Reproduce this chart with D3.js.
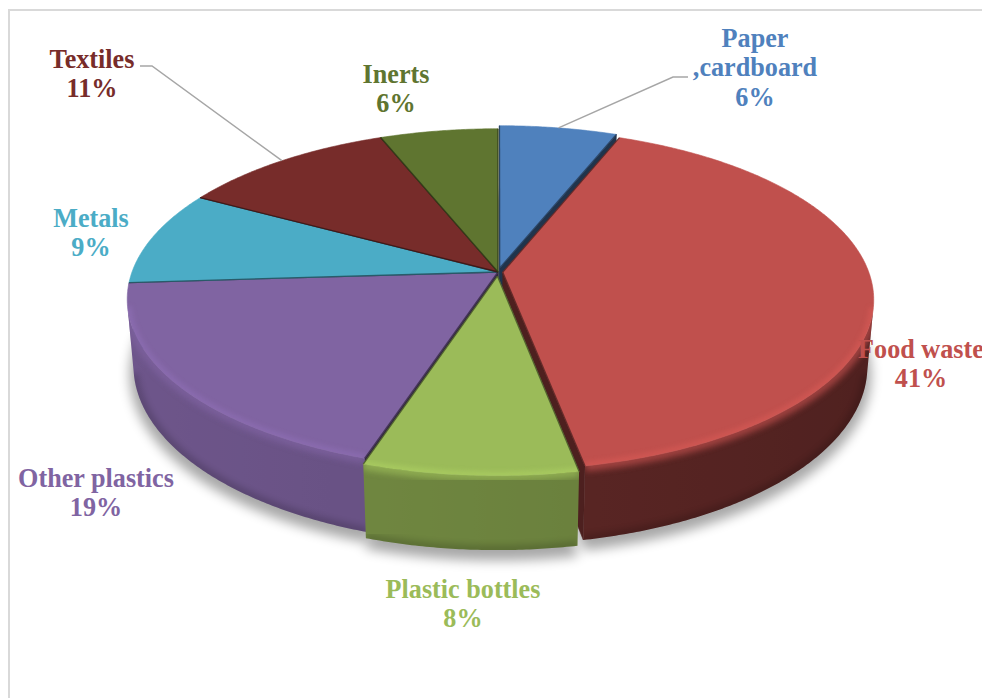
<!DOCTYPE html>
<html>
<head>
<meta charset="utf-8">
<script src="https://cdn.jsdelivr.net/npm/d3@7"></script>
<style>
  html, body { margin: 0; padding: 0; background: #fff; overflow: hidden; }
  text { font-family: "Liberation Serif", "Times New Roman", "DejaVu Serif", serif; font-weight: bold; }
</style>
</head>
<body>
<svg id="chart" width="982" height="698"></svg>
<script>
// ---- data ----
const categories = ["Paper ,cardboard", "Food waste", "Plastic bottles", "Other plastics", "Metals", "Textiles", "Inerts"];
const values = [6, 41, 8, 19, 9, 11, 6];
const labelLines = [["Paper", ",cardboard"], ["Food waste"], ["Plastic bottles"], ["Other plastics"], ["Metals"], ["Textiles"], ["Inerts"]];

// ---- style / layout ----
const colors = ["#4f81bd", "#c0504d", "#9bbb59", "#8064a2", "#4bacc6", "#772c2a", "#5f7530"];
const sideTone = [0.5, 0.47, 0.7, 0.8, 0.78, 0.5, 0.6];
const explode = [0.025, 0.013, 0.025, 0, 0, 0, 0];
// label block: centre x, first baseline
const labelPos = [[755, 47], [921, 358], [463, 598], [96, 487], [91, 227], [92, 68], [396, 83]];
// leader lines: label-side end and elbow
const leaders = { 0: [[688, 77], [673, 77]], 5: [[140, 66], [152, 66]] };

const W = 982, H = 698;
const cx = 498, cy = 272;
const theta = 27 * Math.PI / 180;
const cosT = Math.cos(theta), sinT = Math.sin(theta);
const persp = 0.16;
const D = cosT / persp;
const F = 366 * D;
const thick = 0.205;

// perspective projection of a point on the disk (u right, v toward viewer, w up)
function project(u, v, w) {
  const z = D - (v * cosT + w * sinT);
  const xc = u, yc = v * sinT - w * cosT;
  return [cx + F * xc / z, cy + F * yc / z, z];
}

const svg = d3.select("#chart");
const defs = svg.append("defs");
function blurFilter(id, sd) {
  defs.append("filter").attr("id", id)
    .attr("x", "-30%").attr("y", "-30%").attr("width", "160%").attr("height", "160%")
    .append("feGaussianBlur").attr("stdDeviation", sd);
}
blurFilter("shadowBlur", 6);
blurFilter("softBlur", 3);
blurFilter("edgeBlur", 2);

// frame
svg.append("path")
  .attr("d", `M9,${H + 5} L9,10 L${W + 5},10`)
  .attr("fill", "none").attr("stroke", "#d9d9d9").attr("stroke-width", 2);

const pie = d3.pie().sort(null).value(d => d.value).startAngle(0).endAngle(2 * Math.PI);
const arcs = pie(categories.map((c, i) => ({ name: c, value: values[i] })));

const slices = arcs.map((d, i) => {
  const m = (d.startAngle + d.endAngle) / 2;
  const e = explode[i];
  return { a0: d.startAngle, a1: d.endAngle, m, i, value: d.data.value, name: d.data.name,
           ou: e * Math.sin(m), ov: -e * Math.cos(m), color: colors[i] };
});

const rim = (sl, a, r, w) => project(sl.ou + r * Math.sin(a), sl.ov - r * Math.cos(a), w);
const hub = (sl, w) => project(sl.ou, sl.ov, w);
const camU = 0, camV = D * cosT;

function wallFacing(sl, a) {
  const pu = sl.ou + Math.sin(a), pv = sl.ov - Math.cos(a);
  return Math.sin(a) * (camU - pu) + (-Math.cos(a)) * (camV - pv) > 0;
}
// side walls are lit from the left
const lightFactor = (sl, a) => sideTone[sl.i] - 0.06 * Math.sin(a);
function shade(c, f) {
  const r = d3.rgb(c);
  return d3.rgb(r.r * f, r.g * f, r.b * f).formatHex();
}
const line = d3.line();
const poly = pts => line(pts.map(p => [p[0], p[1]])) + "Z";

// shadow under the pie
const shadowG = svg.append("g").attr("filter", "url(#shadowBlur)").attr("opacity", 0.34)
  .attr("transform", "translate(0,8)");
slices.forEach(sl => {
  const angs = d3.range(0, 61).map(j => sl.a0 + (sl.a1 - sl.a0) * j / 60);
  shadowG.append("path")
    .attr("d", poly([hub(sl, -thick), ...angs.map(a => rim(sl, a, 1.01, -thick))]))
    .attr("fill", "#000");
});

// collect side faces
const faces = [];
slices.forEach(sl => {
  const n = Math.max(4, Math.ceil((sl.a1 - sl.a0) / (Math.PI / 360)));
  const angs = d3.range(n + 1).map(j => sl.a0 + (sl.a1 - sl.a0) * j / n);
  sl.angs = angs;
  const runs = [];
  let run = [];
  for (let j = 0; j < n; j++) {
    const am = (angs[j] + angs[j + 1]) / 2;
    if (wallFacing(sl, am)) { if (!run.length) run.push(angs[j]); run.push(angs[j + 1]); }
    else if (run.length) { runs.push(run); run = []; }
  }
  if (run.length) runs.push(run);
  sl.runs = runs;
  runs.forEach(r => {
    const top = r.map(a => rim(sl, a, 1, 0));
    const bot = r.map(a => rim(sl, a, 1, -thick));
    faces.push({ type: "wall", sl, angles: r, top, bot, z: d3.mean([...top, ...bot], p => p[2]) });
  });
  // radial cut faces
  const dv = camV - sl.ov, du = camU - sl.ou;
  const startVis = (-Math.cos(sl.a0)) * du + (-Math.sin(sl.a0)) * dv > 0;
  const endVis = Math.cos(sl.a1) * du + Math.sin(sl.a1) * dv > 0;
  [[sl.a0, startVis], [sl.a1, endVis]].forEach(([a, vis]) => {
    if (!vis) return;
    const pts = [hub(sl, 0), rim(sl, a, 1, 0), rim(sl, a, 1, -thick), hub(sl, -thick)];
    faces.push({ type: "cut", sl, pts, z: d3.mean(pts, p => p[2]) });
  });
});
faces.sort((a, b) => b.z - a.z);

const sideG = svg.append("g");
faces.forEach((f, k) => {
  const sl = f.sl;
  if (f.type === "cut") {
    sideG.append("path").attr("d", poly(f.pts))
      .attr("fill", shade(sl.color, 0.4))
      .attr("stroke", shade(sl.color, 0.4)).attr("stroke-width", 0.6);
    return;
  }
  const outline = poly([...f.top, ...f.bot.slice().reverse()]);
  const gid = "wallGrad" + k, cid = "wallClip" + k;
  const x1 = f.top[0][0], x2 = f.top[f.top.length - 1][0];
  let fill = shade(sl.color, lightFactor(sl, (f.angles[0] + f.angles[f.angles.length - 1]) / 2));
  if (Math.abs(x2 - x1) > 1) {
    const g = defs.append("linearGradient").attr("id", gid)
      .attr("gradientUnits", "userSpaceOnUse")
      .attr("x1", x1).attr("x2", x2).attr("y1", 0).attr("y2", 0);
    const step = Math.max(1, Math.floor(f.angles.length / 12));
    f.angles.forEach((a, j) => {
      if (j % step && j !== f.angles.length - 1) return;
      const off = Math.max(0, Math.min(1, (f.top[j][0] - x1) / (x2 - x1)));
      g.append("stop").attr("offset", off).attr("stop-color", shade(sl.color, lightFactor(sl, a)));
    });
    fill = `url(#${gid})`;
  }
  defs.append("clipPath").attr("id", cid).append("path").attr("d", outline);
  const wg = sideG.append("g");
  wg.append("path").attr("d", outline).attr("fill", fill);
  const inner = wg.append("g").attr("clip-path", `url(#${cid})`);
  // rounded top edge highlight
  inner.append("path").attr("d", line(f.top.map(p => [p[0], p[1]])))
    .attr("fill", "none").attr("stroke", sl.color).attr("stroke-width", 11)
    .attr("opacity", 0.7).attr("filter", "url(#softBlur)");
  // darker lower edge
  inner.append("path").attr("d", line(f.bot.map(p => [p[0], p[1]])))
    .attr("fill", "none").attr("stroke", "#000").attr("stroke-width", 10)
    .attr("opacity", 0.16).attr("filter", "url(#softBlur)");
});

// top faces
const topG = svg.append("g");
slices.forEach(sl => {
  const pts = [hub(sl, 0), ...sl.angs.map(a => rim(sl, a, 1, 0))];
  const d = poly(pts);
  const cid = "topClip" + sl.i;
  defs.append("clipPath").attr("id", cid).append("path").attr("d", d);
  topG.append("path").attr("d", d).attr("fill", sl.color)
    .attr("stroke", sl.color).attr("stroke-width", 0.6);
  const hl = topG.append("g").attr("clip-path", `url(#${cid})`);
  sl.runs.forEach(r => {
    hl.append("path").attr("d", line(r.map(a => rim(sl, a, 1, 0)).map(p => [p[0], p[1]])))
      .attr("fill", "none").attr("stroke", d3.rgb(sl.color).brighter(0.35).formatHex())
      .attr("stroke-width", 9).attr("opacity", 0.5).attr("filter", "url(#edgeBlur)");
  });
  // slice borders along the radii
  const h = hub(sl, 0);
  [sl.a0, sl.a1].forEach(a => {
    const p = rim(sl, a, 1, 0);
    topG.append("line").attr("x1", h[0]).attr("y1", h[1]).attr("x2", p[0]).attr("y2", p[1])
      .attr("stroke", shade(sl.color, 0.45)).attr("stroke-width", 1.3).attr("opacity", 0.8);
  });
});

// leader lines
Object.entries(leaders).forEach(([i, pts]) => {
  const sl = slices[+i];
  const end = rim(sl, sl.m, 1, 0);
  svg.append("path")
    .attr("d", line([pts[0], pts[1], [end[0], end[1]]]))
    .attr("fill", "none").attr("stroke", "#a6a6a6").attr("stroke-width", 1.5);
});

// data labels
const labG = svg.append("g");
slices.forEach(sl => {
  const [lx, ly] = labelPos[sl.i];
  const lines = [...labelLines[sl.i], sl.value + "%"];
  const g = labG.append("g").attr("transform", `translate(${lx},${ly}) scale(0.97,1)`);
  lines.forEach((t, j) => {
    g.append("text").attr("x", 0).attr("y", j * 29.5)
      .attr("text-anchor", "middle").attr("font-size", 27)
      .attr("fill", sl.color).text(t);
  });
});
</script>
</body>
</html>
